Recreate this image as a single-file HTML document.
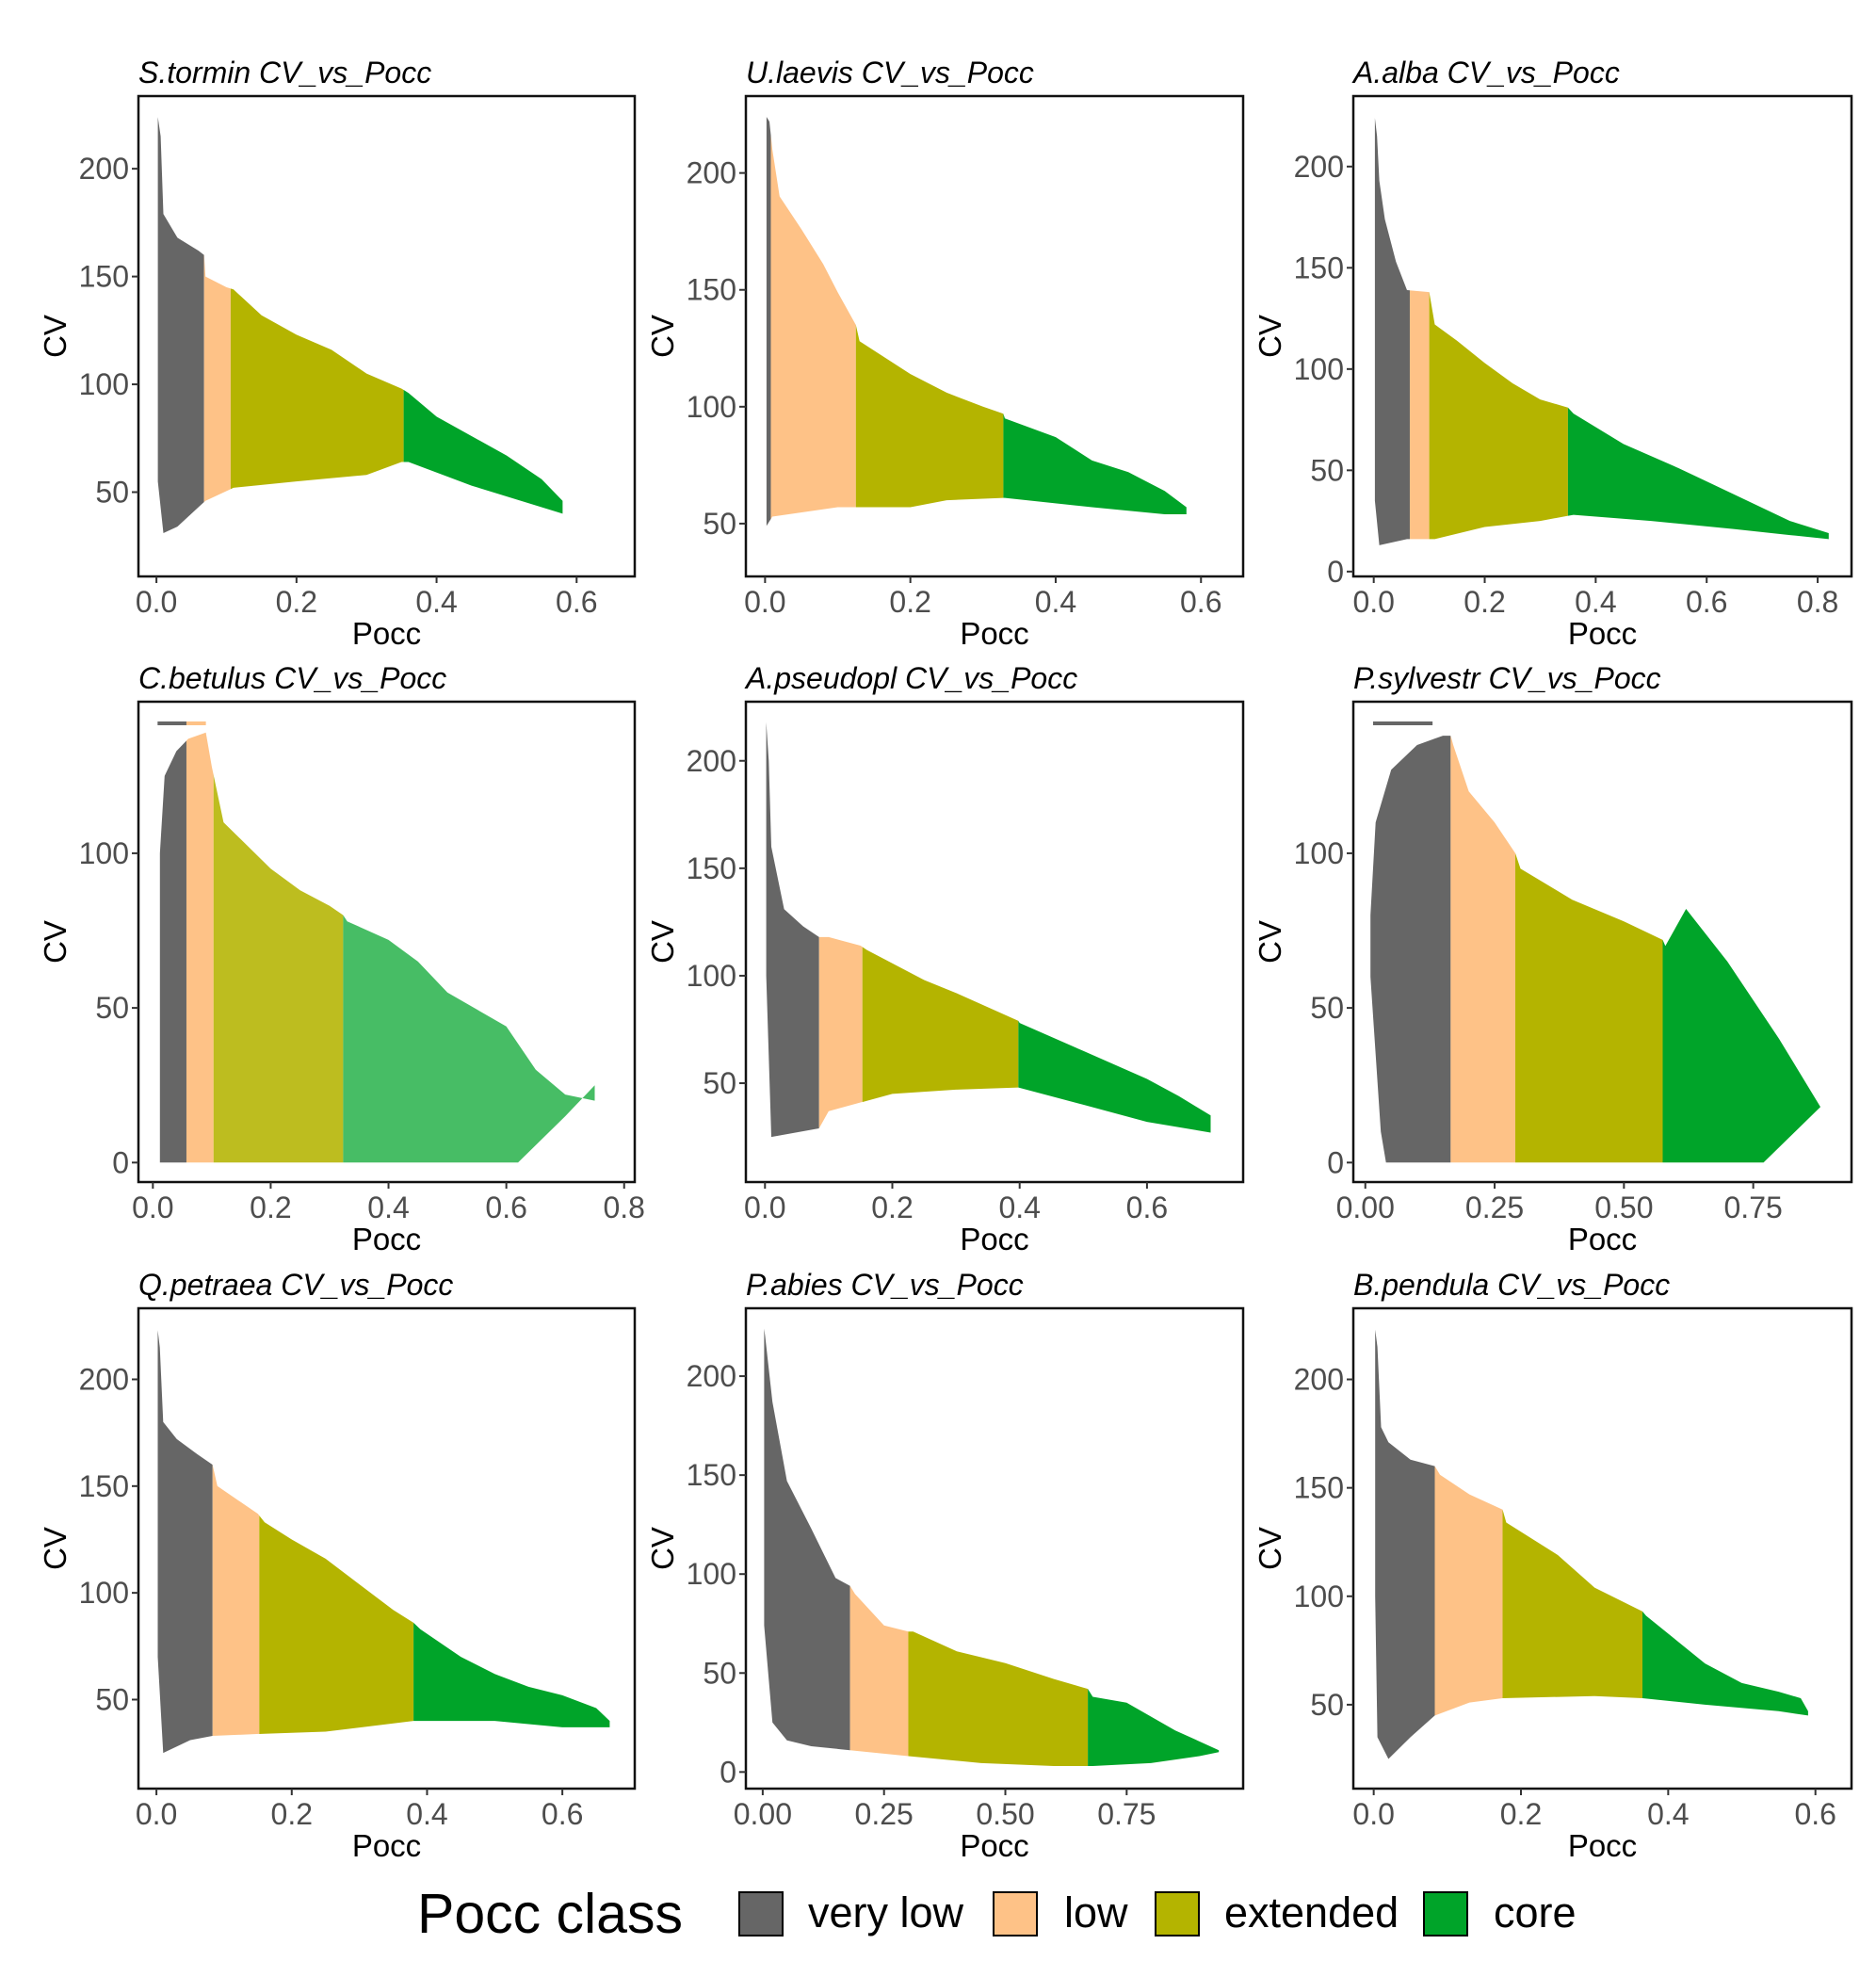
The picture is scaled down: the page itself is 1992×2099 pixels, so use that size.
<!DOCTYPE html>
<html><head><meta charset="utf-8"><style>
html,body{margin:0;padding:0;background:#fff;}
svg{display:block;font-family:"Liberation Sans",Arial,sans-serif;}
</style></head><body>
<svg id="fig" width="1992" height="2099" viewBox="0 0 1992 2099" xmlns="http://www.w3.org/2000/svg">
<rect x="0" y="0" width="1992" height="2099" fill="#fff"/>
<g id="panels"></g>
<g id="legend">
  <text x="443" y="2052" font-size="59" fill="#000">Pocc class</text>
  <rect x="785" y="2009" width="46" height="46" fill="#666666" stroke="#000" stroke-width="2"/>
  <text x="858" y="2046" font-size="45" fill="#000">very low</text>
  <rect x="1055" y="2009" width="46" height="46" fill="#fec287" stroke="#000" stroke-width="2"/>
  <text x="1130" y="2046" font-size="45" fill="#000">low</text>
  <rect x="1227" y="2009" width="46" height="46" fill="#b4b400" stroke="#000" stroke-width="2"/>
  <text x="1300" y="2046" font-size="45" fill="#000">extended</text>
  <rect x="1512" y="2009" width="46" height="46" fill="#00a429" stroke="#000" stroke-width="2"/>
  <text x="1586" y="2046" font-size="45" fill="#000">core</text>
</g>
</svg>
<script>
// ---- data ----
const speciesNames = ["S.tormin","U.laevis","A.alba","C.betulus","A.pseudopl","P.sylvestr","Q.petraea","P.abies","B.pendula"];
const classNames = ["very low","low","extended","core"];
const classBreaks = [
  [0,0.068,0.106,0.353,0.62],
  [0,0.008,0.125,0.328,0.62],
  [0,0.065,0.1,0.35,0.85],
  [0,0.057,0.103,0.323,0.8],
  [0,0.085,0.153,0.398,0.75],
  [0,0.165,0.29,0.575,0.95],
  [0,0.083,0.152,0.38,0.7],
  [0,0.18,0.3,0.67,1],
  [0,0.083,0.175,0.365,0.65]
];
const topPocc = [
  [0.002,0.006,0.01,0.03,0.06,0.068,0.07,0.1,0.11,0.15,0.2,0.25,0.3,0.35,0.36,0.4,0.45,0.5,0.55,0.58],
  [0.002,0.006,0.01,0.02,0.05,0.08,0.1,0.125,0.13,0.2,0.25,0.3,0.328,0.33,0.4,0.45,0.5,0.55,0.58],
  [0.002,0.006,0.01,0.02,0.04,0.06,0.1,0.11,0.15,0.2,0.25,0.3,0.35,0.36,0.45,0.55,0.65,0.75,0.82],
  [0.012,0.02,0.04,0.06,0.09,0.1,0.12,0.2,0.25,0.3,0.323,0.33,0.4,0.45,0.5,0.6,0.65,0.7,0.75],
  [0.002,0.006,0.01,0.03,0.06,0.085,0.1,0.15,0.16,0.25,0.3,0.398,0.4,0.5,0.6,0.65,0.7],
  [0.01,0.02,0.05,0.1,0.15,0.165,0.17,0.2,0.25,0.29,0.3,0.4,0.5,0.575,0.58,0.62,0.7,0.8,0.88],
  [0.002,0.005,0.01,0.03,0.06,0.083,0.09,0.15,0.16,0.2,0.25,0.3,0.35,0.38,0.39,0.45,0.5,0.55,0.6,0.65,0.67],
  [0.003,0.005,0.02,0.05,0.1,0.15,0.18,0.19,0.25,0.3,0.31,0.4,0.5,0.6,0.67,0.68,0.75,0.85,0.94],
  [0.002,0.005,0.01,0.02,0.05,0.083,0.09,0.13,0.175,0.18,0.25,0.3,0.365,0.37,0.45,0.5,0.55,0.58,0.59]
];
const topCV = [
  [224,215,179,168,162,160,150,145,144,132,123,116,105,98,96,85,76,67,56,46],
  [224,222,210,190,176,161,149,135,128,114,106,100,97,95,87,77,72,64,57],
  [224,215,193,174,153,139,138,122,114,103,93,85,81,78,63,51,38,25,19],
  [100,125,133,137,139,128,110,95,88,83,80,78,72,65,55,44,30,22,20],
  [218,200,160,131,123,118,118,114,112,98,92,79,78,65,52,44,35],
  [80,110,127,135,138,138,135,120,110,100,95,85,78,72,70,82,65,40,18],
  [223,215,180,172,165,160,150,137,133,125,116,104,92,86,83,70,62,56,52,46,40],
  [224,220,187,147,123,98,94,90,74,71,71,61,55,47,42,38,35,21,11],
  [223,215,178,171,163,160,156,147,140,134,119,104,93,91,69,60,56,53,47]
];
const botPocc = [
  [0.002,0.01,0.03,0.06,0.07,0.11,0.2,0.3,0.35,0.36,0.45,0.55,0.58],
  [0.002,0.01,0.1,0.2,0.25,0.33,0.45,0.55,0.58],
  [0.002,0.01,0.06,0.11,0.2,0.3,0.36,0.5,0.65,0.75,0.82],
  [0.012,0.62,0.7,0.75],
  [0.002,0.01,0.085,0.1,0.2,0.3,0.398,0.5,0.6,0.7],
  [0.01,0.03,0.04,0.77,0.88],
  [0.002,0.01,0.05,0.083,0.16,0.25,0.38,0.5,0.6,0.67],
  [0.003,0.02,0.05,0.1,0.18,0.3,0.45,0.6,0.68,0.8,0.9,0.94],
  [0.002,0.005,0.02,0.05,0.083,0.13,0.175,0.3,0.365,0.45,0.55,0.59]
];
const botCV = [
  [55,31,34,43,46,52,55,58,64,64,53,43,40],
  [49,53,57,57,60,61,57,54,54],
  [35,13,16,16,22,25,28,25,21,18,16],
  [0,0,15,25],
  [100,25,29,37,45,47,48,40,32,27],
  [60,10,0,0,18],
  [70,25,31,33,34,35,40,40,37,37],
  [74,25,16,13,11,8,4.5,3,3,4.5,8,10],
  [100,35,25,35,45,51,53,54,53,50,47,45]
];
const streakPanels = [3,5];
const streakPocc = [[0.008,0.09],[0.015,0.13]];
const streakCV = [142,142];
const xLimits = [[-0.0257,0.683],[-0.0264,0.658],[-0.0368,0.861],[-0.0245,0.818],[-0.030,0.751],[-0.0232,0.940],[-0.0266,0.707],[-0.0347,0.990],[-0.0277,0.649]];
const yLimits = [[10.9,233.7],[27.4,232.9],[-2.4,234.8],[-6.3,149],[4.0,227.5],[-6.3,149],[8.3,233.3],[-8.4,234.3],[11.3,232.8]];
const xTicks = [[0,0.2,0.4,0.6],[0,0.2,0.4,0.6],[0,0.2,0.4,0.6,0.8],[0,0.2,0.4,0.6,0.8],[0,0.2,0.4,0.6],[0,0.25,0.5,0.75],[0,0.2,0.4,0.6],[0,0.25,0.5,0.75],[0,0.2,0.4,0.6]];
const xTickLabels = [["0.0","0.2","0.4","0.6"],["0.0","0.2","0.4","0.6"],["0.0","0.2","0.4","0.6","0.8"],["0.0","0.2","0.4","0.6","0.8"],["0.0","0.2","0.4","0.6"],["0.00","0.25","0.50","0.75"],["0.0","0.2","0.4","0.6"],["0.00","0.25","0.50","0.75"],["0.0","0.2","0.4","0.6"]];
const yTicks = [[50,100,150,200],[50,100,150,200],[0,50,100,150,200],[0,50,100],[50,100,150,200],[0,50,100],[50,100,150,200],[0,50,100,150,200],[50,100,150,200]];
const yTickLabels = yTicks.map(a => a.map(String));

// ---- layout / style ----
const colX = [[147,674],[792,1320],[1437,1966]];
const rowY = [[102,612],[745,1255],[1389,1899]];
const classColors = ["#666666","#fec287","#b4b400","#00a429"];
const classOpacity = [[1,1,1,1],[1,1,1,1],[1,1,1,1],[1,1,0.88,0.72],[1,1,1,1],[1,1,1,1],[1,1,1,1],[1,1,1,1],[1,1,1,1]];
const NS = "http://www.w3.org/2000/svg";
const root = document.getElementById("panels");
function mk(tag, attrs, parent) {
  const e = document.createElementNS(NS, tag);
  for (const k in attrs) e.setAttribute(k, attrs[k]);
  parent.appendChild(e);
  return e;
}
const defs = mk("defs", {}, document.getElementById("fig"));

for (let p = 0; p < 9; p++) {
  const [L, R] = colX[p % 3];
  const [T, B] = rowY[Math.floor(p / 3)];
  const xs = v => L + (v - xLimits[p][0]) / (xLimits[p][1] - xLimits[p][0]) * (R - L);
  const ys = v => B - (v - yLimits[p][0]) / (yLimits[p][1] - yLimits[p][0]) * (B - T);
  const slug = speciesNames[p].toLowerCase().replace(/\./g, "-");
  const g = mk("g", {}, root);
  
  

  let pts = [];
  for (let i = 0; i < topPocc[p].length; i++) pts.push(xs(topPocc[p][i]).toFixed(1) + "," + ys(topCV[p][i]).toFixed(1));
  for (let i = botPocc[p].length - 1; i >= 0; i--) pts.push(xs(botPocc[p][i]).toFixed(1) + "," + ys(botCV[p][i]).toFixed(1));
  const ptsStr = pts.join(" ");

  for (let c = 0; c < 4; c++) {
    const cid = "clip" + p + "_" + c;
    const cp = mk("clipPath", { id: cid }, defs);
    const x0 = xs(classBreaks[p][c]), x1 = xs(classBreaks[p][c + 1]);
    mk("rect", { x: Math.max(L, x0), y: T, width: Math.max(0, Math.min(R, x1) - Math.max(L, x0)), height: B - T }, cp);
    const poly = mk("polygon", { points: ptsStr, fill: classColors[c], "fill-opacity": classOpacity[p][c], "clip-path": "url(#" + cid + ")" }, g);
    
    
  }
  const si = streakPanels.indexOf(p);
  if (si >= 0) {
    for (let c = 0; c < 2; c++) {
      const a = Math.max(streakPocc[si][0], classBreaks[p][c]);
      const b = Math.min(streakPocc[si][1], classBreaks[p][c + 1]);
      if (b > a) {
        const ln = mk("line", { x1: xs(a), x2: xs(b), y1: ys(streakCV[si]), y2: ys(streakCV[si]), stroke: classColors[c], "stroke-width": 4 }, g);
        
        
      }
    }
  }
  const border = mk("rect", { x: L, y: T, width: R - L, height: B - T, fill: "none", stroke: "#111", "stroke-width": 2.5 }, g);
  
  
  xTicks[p].forEach((v, i) => {
    const x = xs(v);
    const t = mk("line", { x1: x, x2: x, y1: B, y2: B + 7, stroke: "#333", "stroke-width": 2 }, g);
    
    
    const lb = mk("text", { x: x, y: B + 38, "text-anchor": "middle", "font-size": 32, fill: "#4d4d4d" }, g);
    lb.textContent = xTickLabels[p][i];
    
    
  });
  yTicks[p].forEach((v, i) => {
    const y = ys(v);
    const t = mk("line", { x1: L - 7, x2: L, y1: y, y2: y, stroke: "#333", "stroke-width": 2 }, g);
    
    
    const lb = mk("text", { x: L - 10, y: y + 11, "text-anchor": "end", "font-size": 32, fill: "#4d4d4d" }, g);
    lb.textContent = yTickLabels[p][i];
    
    
  });
  const title = mk("text", { x: L, y: T - 14, "font-size": 32, "font-style": "italic", fill: "#000" }, g);
  title.textContent = speciesNames[p] + " CV_vs_Pocc";
  
  
  const xt = mk("text", { x: (L + R) / 2, y: B + 72, "text-anchor": "middle", "font-size": 33, fill: "#000" }, g);
  xt.textContent = "Pocc";
  
  
  const cy = (T + B) / 2;
  const yt = mk("text", { x: L - 77, y: cy, "text-anchor": "middle", "font-size": 33, fill: "#000", transform: "rotate(-90 " + (L - 77) + " " + cy + ")" }, g);
  yt.textContent = "CV";
  
  
}
</script>
</body></html>
